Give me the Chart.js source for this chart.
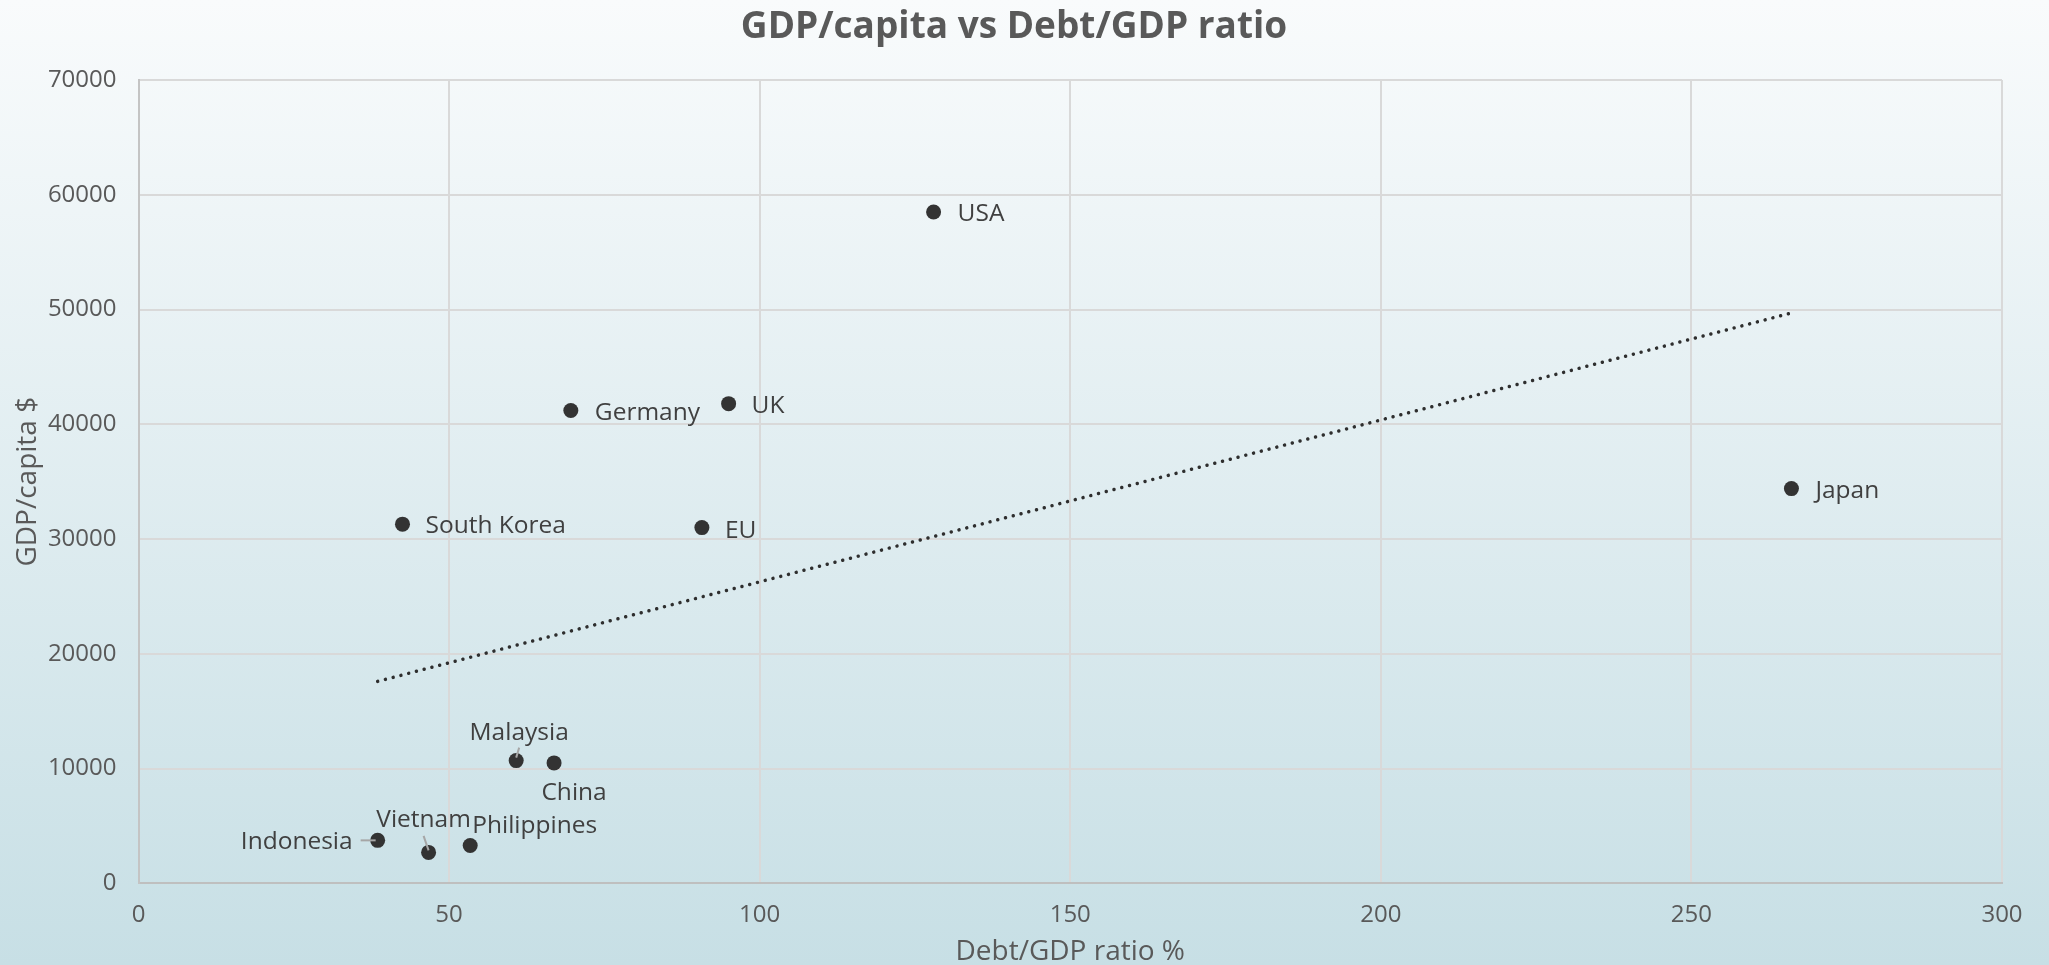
<!DOCTYPE html>
<html>
<head>
<meta charset="utf-8">
<script src="https://cdn.jsdelivr.net/npm/chart.js@4/dist/chart.umd.min.js"></script>
<style>
  html, body { margin: 0; padding: 0; background: #dfeaee; }
  #wrap { width: 2049px; height: 965px; position: relative; }
  canvas { display: block; }
</style>
</head>
<body>
<div id="wrap"><canvas id="c" width="2049" height="965"></canvas></div>
<script>
// ---------------- data ----------------
const countries    = ['USA', 'UK', 'Germany', 'EU', 'South Korea', 'Japan', 'Malaysia', 'China', 'Indonesia', 'Vietnam', 'Philippines'];
const debtToGdp    = [128, 95, 69.6, 90.7, 42.5, 266.1, 60.8, 66.9, 38.5, 46.7, 53.4];
const gdpPerCapita = [58500, 41800, 41200, 31000, 31300, 34400, 10700, 10500, 3750, 2700, 3300];
const trendDebt    = [38.5, 266.1];
const trendGdp     = [17600, 49700];
const xTickValues  = [0, 50, 100, 150, 200, 250, 300];
const yTickValues  = [0, 10000, 20000, 30000, 40000, 50000, 60000, 70000];
const chartTitle   = 'GDP/capita vs Debt/GDP ratio';
const xAxisTitle   = 'Debt/GDP ratio %';
const yAxisTitle   = 'GDP/capita $';

// ---------------- styles ----------------
const FONT = "'Open Sans', 'DejaVu Sans', sans-serif";
const labelPlacement = {
  'USA':         { dx: 24,  dy: 9,   align: 'left' },
  'UK':          { dx: 23,  dy: 9,   align: 'left' },
  'Germany':     { dx: 24,  dy: 9.5, align: 'left' },
  'EU':          { dx: 23,  dy: 10,  align: 'left' },
  'South Korea': { dx: 23,  dy: 9,   align: 'left' },
  'Japan':       { dx: 24,  dy: 9.5, align: 'left' },
  'Malaysia':    { dx: 3,   dy: -20.5, align: 'center', leader: [[3, -13], [0, -3]] },
  'China':       { dx: 20,  dy: 37.5,  align: 'center' },
  'Indonesia':   { dx: -25, dy: 9,     align: 'right',  leader: [[-17, 0], [-2, 0]] },
  'Vietnam':     { dx: -5,  dy: -25.7, align: 'center', leader: [[-5, -16.5], [0, -2]] },
  'Philippines': { dx: 2,   dy: -12.7, align: 'left' }
};

const bgPlugin = {
  id: 'bg',
  beforeDraw(chart) {
    const { ctx, width, height } = chart;
    const g = ctx.createLinearGradient(0, 0, 0, height);
    g.addColorStop(0, '#f9fbfc');
    g.addColorStop(1, '#c7dfe5');
    ctx.save();
    ctx.fillStyle = g;
    ctx.fillRect(0, 0, width, height);
    ctx.restore();
  }
};

const textPlugin = {
  id: 'texts',
  afterDatasetsDraw(chart) {
    const { ctx } = chart;
    const xs = chart.scales.x, ys = chart.scales.y;
    ctx.save();
    // data labels
    ctx.font = "24.5px " + FONT;
    ctx.fillStyle = '#404040';
    ctx.textBaseline = 'alphabetic';
    countries.forEach((name, i) => {
      const px = xs.getPixelForValue(debtToGdp[i]);
      const py = ys.getPixelForValue(gdpPerCapita[i]);
      const p = labelPlacement[name];
      if (p.leader) {
        ctx.save();
        ctx.strokeStyle = '#a6a6a6';
        ctx.lineWidth = 2;
        ctx.beginPath();
        ctx.moveTo(px + p.leader[0][0], py + p.leader[0][1]);
        ctx.lineTo(px + p.leader[1][0], py + p.leader[1][1]);
        ctx.stroke();
        ctx.restore();
      }
      ctx.textAlign = p.align;
      ctx.fillText(name, px + p.dx, py + p.dy);
    });
    // title
    ctx.font = "bold 37px " + FONT;
    ctx.fillStyle = '#595959';
    ctx.textAlign = 'center';
    ctx.textBaseline = 'middle';
    ctx.fillText(chartTitle, 1014, 27.5);
    ctx.restore();
  }
};

const scatterPoints = debtToGdp.map((d, i) => ({ x: d, y: gdpPerCapita[i] }));
const trendPoints = trendDebt.map((d, i) => ({ x: d, y: trendGdp[i] }));

new Chart(document.getElementById('c'), {
  type: 'scatter',
  data: {
    datasets: [
      {
        label: 'Countries',
        data: scatterPoints,
        pointRadius: 7.5,
        pointHoverRadius: 7.5,
        backgroundColor: '#333333',
        borderWidth: 0
      },
      {
        type: 'line',
        label: 'Trend',
        data: trendPoints,
        borderColor: '#2e2e2e',
        borderWidth: 3.5,
        borderDash: [0.01, 8],
        borderCapStyle: 'round',
        pointRadius: 0,
        fill: false,
        tension: 0
      }
    ]
  },
  options: {
    responsive: false,
    animation: false,
    devicePixelRatio: 1,
    layout: { padding: { top: 80, right: 47, left: 0, bottom: 0 } },
    plugins: { legend: { display: false }, tooltip: { enabled: false }, title: { display: false } },
    scales: {
      x: {
        type: 'linear',
        min: xTickValues[0],
        max: xTickValues[xTickValues.length - 1],
        afterBuildTicks(s) { s.ticks = xTickValues.map(v => ({ value: v })); },
        afterFit(s) { s.height = 81.6; },
        grid: { color: '#d9d9d9', lineWidth: 2, drawTicks: false },
        border: { color: '#bfbfbf', width: 2 },
        ticks: { padding: 17, color: '#595959', font: { family: FONT, size: 24 }, callback: v => String(v) },
        title: { display: true, text: xAxisTitle, color: '#595959', font: { family: FONT, size: 28, lineHeight: 0.9 }, padding: { top: 0, bottom: 0 } }
      },
      y: {
        type: 'linear',
        min: yTickValues[0],
        max: yTickValues[yTickValues.length - 1],
        afterBuildTicks(s) { s.ticks = yTickValues.map(v => ({ value: v })); },
        afterFit(s) { s.width = 138.5; },
        grid: { color: '#d9d9d9', lineWidth: 2, drawTicks: false },
        border: { color: '#c4c4c4', width: 2 },
        ticks: { padding: 22, color: '#595959', font: { family: FONT, size: 24 }, callback: v => String(v) },
        title: { display: true, text: yAxisTitle, color: '#595959', font: { family: FONT, size: 28, lineHeight: 1.2 }, padding: { top: 11, bottom: 0 } }
      }
    }
  },
  plugins: [bgPlugin, textPlugin]
});
</script>
</body>
</html>
